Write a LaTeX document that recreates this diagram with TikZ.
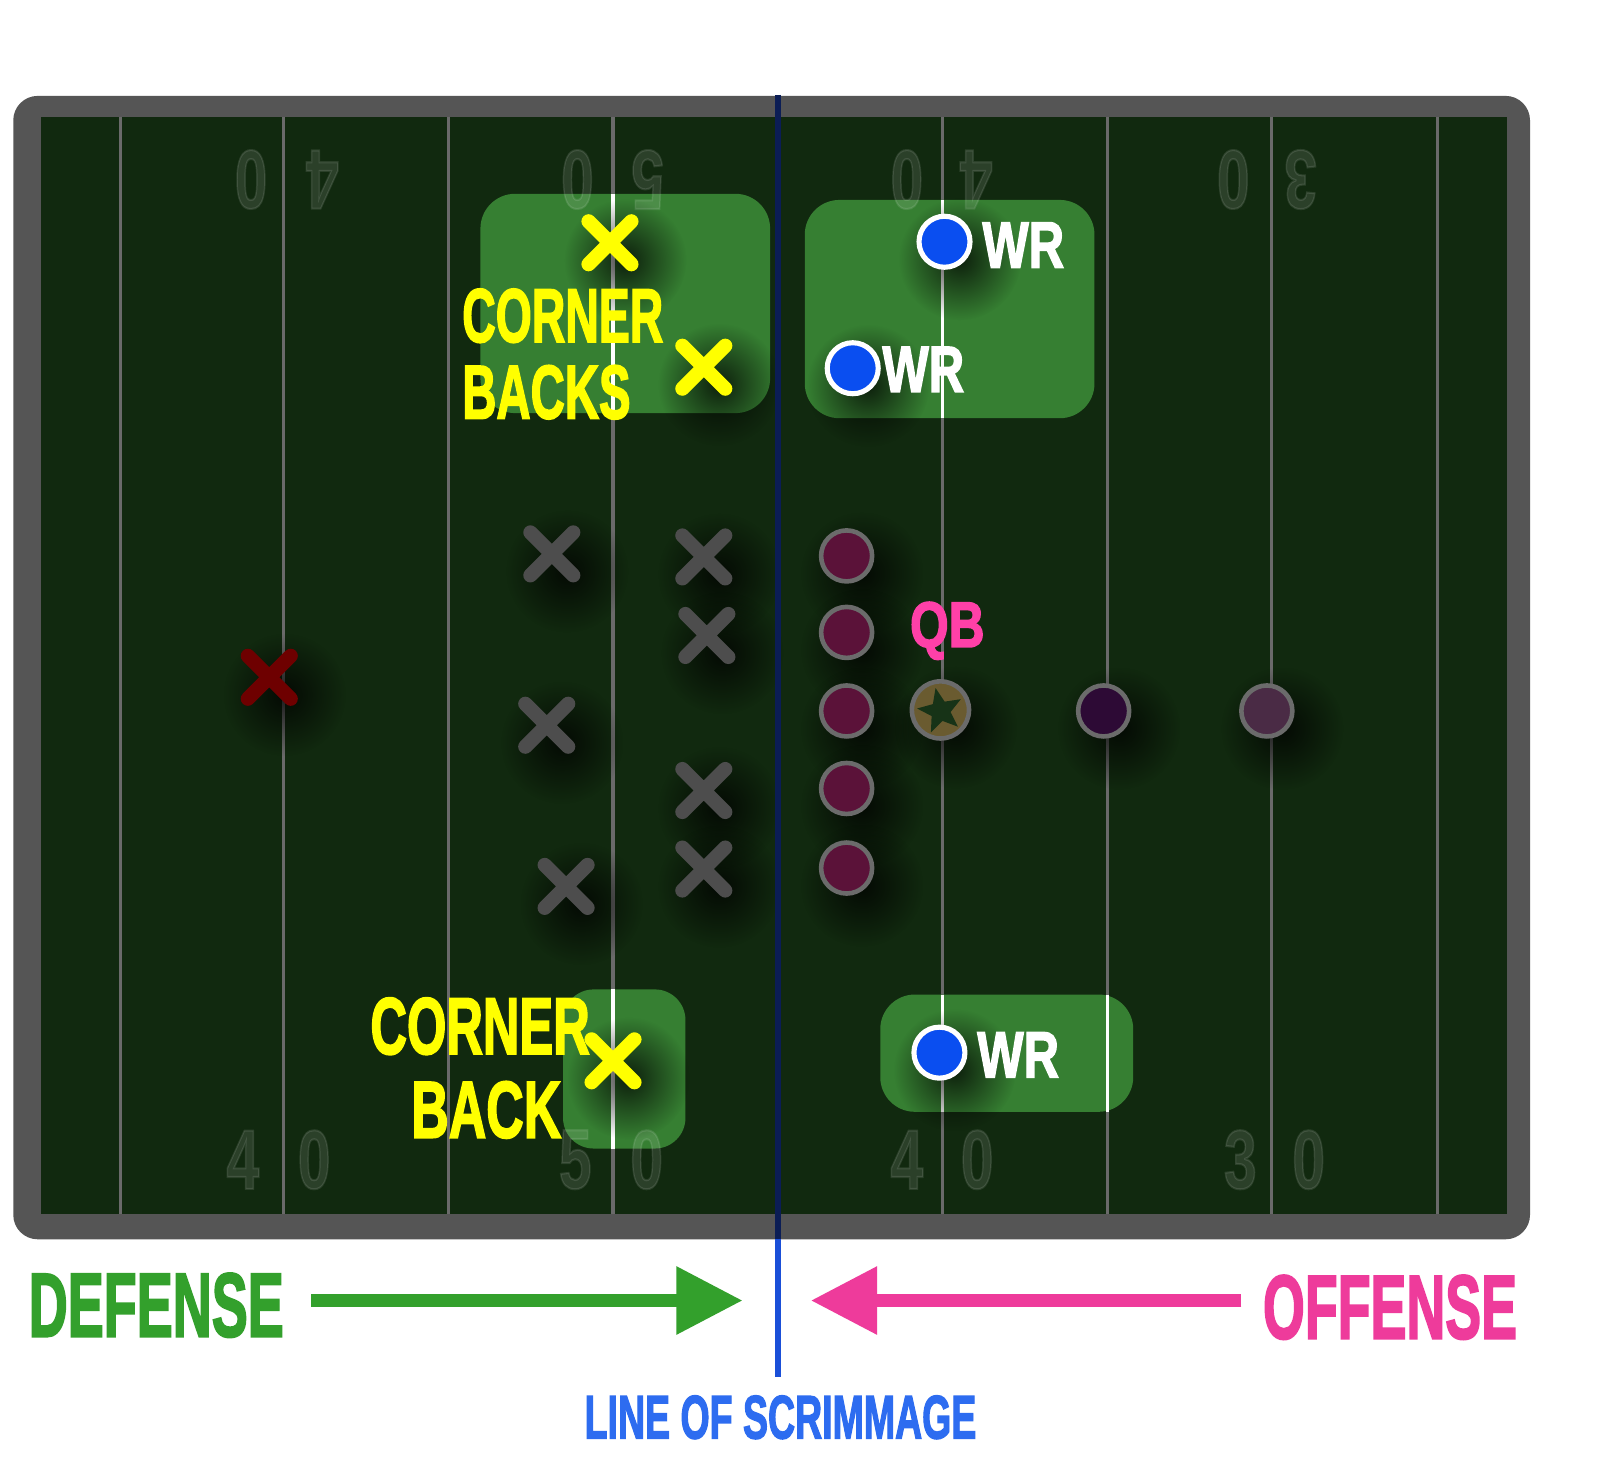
\documentclass[tikz,border=0pt]{standalone}
\usepackage{fontspec}
\usepackage{graphicx}
\setmainfont{Liberation Sans}
\newfontfamily\impf{Liberation Sans}[UprightFont=* Bold, FakeBold=2.5]
\usetikzlibrary{fadings,shapes.geometric,arrows.meta}
\tikzfading[name=softfade, inner color=transparent!25, outer color=transparent!100]
\definecolor{field}{HTML}{11290F}
\definecolor{rim}{HTML}{555555}
\definecolor{yard}{HTML}{6A6A6A}
\definecolor{boxg}{HTML}{367F32}
\definecolor{xyel}{HTML}{FFFF00}
\definecolor{xgray}{HTML}{4D4D4D}
\definecolor{xred}{HTML}{6E0000}
\definecolor{wrblue}{HTML}{0A4EF0}
\definecolor{olmaroon}{HTML}{5B1239}
\definecolor{ringgray}{HTML}{6B6B6B}
\definecolor{qbpink}{HTML}{FF40A8}
\definecolor{defg}{HTML}{33A02C}
\definecolor{offp}{HTML}{EE3B9B}
\definecolor{losblue}{HTML}{2D6CF0}
\definecolor{navy}{HTML}{0B1D55}
\definecolor{lineblue}{HTML}{1A4FD8}
\definecolor{qbfill}{HTML}{6A5B30}
\definecolor{stargreen}{HTML}{173317}
\definecolor{rbpurple}{HTML}{2D0A35}
\definecolor{fbpurple}{HTML}{4A2B45}
\newcommand\fitt[3]{\resizebox{#1pt}{#2pt}{\impf #3}}
\newcommand\shad[2]{\fill[black, path fading=softfade] (#1+15,#2+17) circle (60pt);}
\newcommand\xmk[3]{\draw[xmark, #3] (#1-21,#2-21) -- (#1+21,#2+21) (#1-21,#2+21) -- (#1+21,#2-21);}
\tikzset{
  xmark/.style={line width=14pt, line cap=round},
  zonebox/.style={fill=boxg, rounded corners=34pt},
  yardline/.style={yard, line width=3pt},
  zoneline/.style={white, line width=3pt},
  digit/.style={inner sep=0pt, text=white, text opacity=0.11},
  lbl/.style={inner sep=0pt, anchor=north west},
  wrdot/.style={draw=white, line width=5pt, fill=wrblue},
  oldot/.style={draw=ringgray, line width=4.5pt, fill=olmaroon},
}
\begin{document}
\begin{tikzpicture}[x=1pt,y=-1pt]
\useasboundingbox[fill=white] (0,0) rectangle (1600,1465);
\begin{scope}[transform canvas={scale=1.02}]
% field
\fill[rim, rounded corners=24pt] (13,94) rectangle (1500,1215);
\fill[field] (40,115) rectangle (1477,1190);
\foreach \xx in {118,278,440,601,924,1086,1247,1409}
  \draw[yardline] (\xx,115) -- (\xx,1190);
% zones
\fill[zonebox] (471,190) rectangle (755,405);
\fill[zonebox] (789,196) rectangle (1073,410);
\fill[zonebox, rounded corners=30pt] (552,970) rectangle (672,1126);
\fill[zonebox] (863,975) rectangle (1111,1090);
\draw[zoneline] (601,190) -- (601,405);
\draw[zoneline] (924,196) -- (924,410);
\draw[zoneline] (601,970) -- (601,1126);
\draw[zoneline] (924,975) -- (924,1090);
\draw[zoneline] (1086,975) -- (1086,1090);
% yard numbers (top, upside down)
\node[digit, rotate=180] (t1) at (246,176) {\fitt{32}{57}{0}};
\node[digit, rotate=180] (t2) at (316,176) {\fitt{32}{57}{4}};
\node[digit, rotate=180] (t3) at (566,176) {\fitt{32}{57}{0}};
\node[digit, rotate=180] (t4) at (635,176) {\fitt{32}{57}{5}};
\node[digit, rotate=180] (t5) at (889,176) {\fitt{32}{57}{0}};
\node[digit, rotate=180] (t6) at (957,176) {\fitt{32}{57}{4}};
\node[digit, rotate=180] (t7) at (1209,176) {\fitt{32}{57}{0}};
\node[digit, rotate=180] (t8) at (1275,176) {\fitt{32}{57}{3}};
% yard numbers (bottom)
\node[digit] (b1) at (238,1137) {\fitt{32}{57}{4}};
\node[digit] (b2) at (308,1137) {\fitt{32}{57}{0}};
\node[digit] (b3) at (564,1137) {\fitt{32}{57}{5}};
\node[digit] (b4) at (634,1137) {\fitt{32}{57}{0}};
\node[digit] (b5) at (889,1137) {\fitt{32}{57}{4}};
\node[digit] (b6) at (958,1137) {\fitt{32}{57}{0}};
\node[digit] (b7) at (1216,1137) {\fitt{32}{57}{3}};
\node[digit] (b8) at (1283,1137) {\fitt{32}{57}{0}};
% shadows
\foreach \px/\py in {598/238,690/360,601/1040,541/543,690/546,693/623,536/711,690/775,690/852,555/869,264/664,
  926/237,836/361,921/1032,830/545,830/620,830/697,830/773,830/851,922/696,1082/697,1242/697}
  {\shad{\px}{\py}}
% defense marks
\xmk{598}{238}{xyel}
\xmk{690}{360}{xyel}
\foreach \px/\py in {541/543,690/546,693/623,536/711,690/775,690/852,555/869}
  {\xmk{\px}{\py}{xgray}}
\xmk{264}{664}{xred}
% offense
\foreach \py in {545,620,697,773,851}
  \draw[oldot] (830,\py) circle (25pt);
\draw[oldot, fill=qbfill] (922,696) circle (28pt);
\node[star, star points=5, star point ratio=2.3, fill=stargreen, minimum size=46pt, inner sep=0pt, rotate=12] (qbstar) at (922,697) {};
\draw[oldot, fill=rbpurple] (1082,697) circle (25pt);
\draw[oldot, fill=fbpurple] (1242,697) circle (25pt);
\draw[wrdot] (926,237) circle (25pt);
\draw[wrdot] (836,361) circle (25pt);
\draw[wrdot] (921,1032) circle (25pt);
% labels on field
\node[lbl, text=xyel] (cb1) at (453,283) {\fitt{197}{52}{CORNER}};
\node[lbl, text=xyel] (cb2) at (453,358) {\fitt{165}{52}{BACKS}};
\node[lbl, text=xyel] (cb3) at (363,978) {\fitt{215}{55}{CORNER}};
\node[lbl, text=xyel] (cb4) at (403,1060) {\fitt{147}{55}{BACK}};
\xmk{601}{1040}{xyel}
\node[lbl, text=white] (wr1) at (963,218) {\fitt{80}{44}{WR}};
\node[lbl, text=white] (wr2) at (865,340) {\fitt{80}{44}{WR}};
\node[lbl, text=white] (wr3) at (958,1012) {\fitt{80}{44}{WR}};
\node[lbl, text=qbpink] (qb) at (892,590) {\fitt{73}{44}{QB}};
% line of scrimmage
\coordinate (lt) at (763,93);
\coordinate (lm) at (763,1215);
\coordinate (lb) at (763,1350);
\draw[navy, line width=6pt] (lt) -- (lm);
\draw[lineblue, line width=6pt] (lm) -- (lb);
% bottom legend
\node[lbl, text=defg] (def) at (28,1248) {\fitt{250}{62}{DEFENSE}};
\node[lbl, text=offp] (off) at (1238,1250) {\fitt{249}{62}{OFFENSE}};
\node[lbl, text=losblue] (los) at (573,1368) {\fitt{384}{42}{LINE OF SCRIMMAGE}};
\coordinate (da) at (305,1275);
\coordinate (db) at (728,1275);
\coordinate (oa) at (1217,1275);
\coordinate (ob) at (795,1275);
\draw[defg, line width=12pt, -{Triangle[length=65pt,width=64pt]}] (da) -- (db);
\draw[offp, line width=12pt, -{Triangle[length=65pt,width=64pt]}] (oa) -- (ob);
\end{scope}
\end{tikzpicture}
\end{document}
